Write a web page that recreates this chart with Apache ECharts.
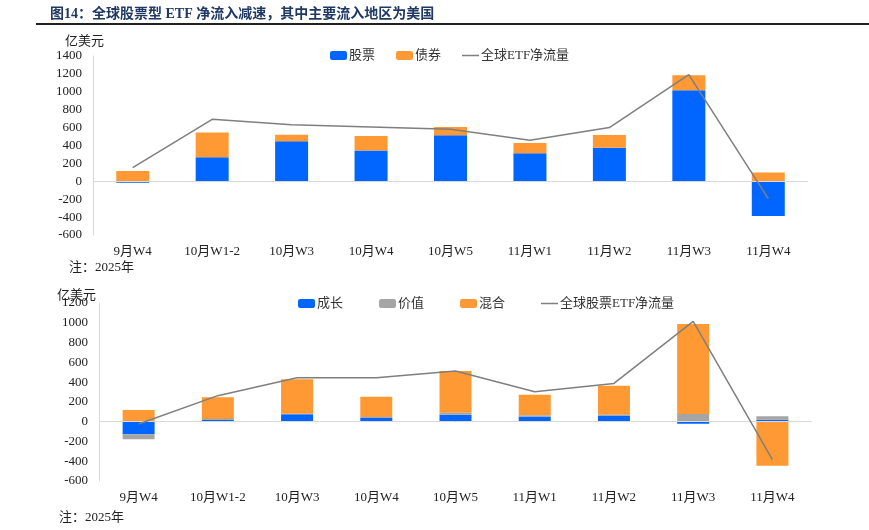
<!DOCTYPE html>
<html><head><meta charset="utf-8">
<script src="https://cdn.jsdelivr.net/npm/echarts@6/dist/echarts.min.js"></script>
<style>html,body{margin:0;padding:0;background:#fff}#c{width:869px;height:530px}</style>
</head><body><div id="c"></div>
<script>
const categories = ['9月W4','10月W1-2','10月W3','10月W4','10月W5','11月W1','11月W2','11月W3','11月W4'];
// top chart
const stockFlow = [-15, 268, 447, 343, 514, 313, 376, 1016, -387];
const bondFlow = [115, 276, 74, 163, 93, 115, 141, 168, 97];
const globalEtfFlow = [153, 692, 633, 607, 581, 458, 600, 1191, -194];
// bottom chart
const growthFlow = [-128, 23, 75, 42, 71, 51, 62, -20, 20];
const valueFlow = [-50, 5, 5, 5, 20, 13, 8, 78, 34];
const mixedFlow = [118, 218, 348, 206, 421, 209, 294, 910, -445];
const globalEquityEtfFlow = [-24, 263, 445, 445, 512, 303, 387, 1014, -384];

const FONT = '"Liberation Serif","Noto Sans CJK SC",serif';
const BLUE = '#0066FF', ORANGE = '#FF9933', GRAY = '#A5A5A5', LINE = '#7F7F7F';
const LINE_ICON = 'path://M0,0 L0.01,0 L0.01,0.01 Z M0,3.8 L17,3.8 L17,5.3 L0,5.3 Z M16.99,9 L17,9 L17,8.99 Z';
const chart = echarts.init(document.getElementById('c'));
const txt = {fontFamily: FONT, color: '#222', fontSize: 13};
const yAx = (gi, min, max) => ({
  gridIndex: gi, type: 'value', min: min, max: max, interval: 200,
  axisLine: {show: true, lineStyle: {color: '#D9D9D9'}},
  axisTick: {show: false}, splitLine: {show: false},
  axisLabel: Object.assign({margin: 11, formatter: v => String(v)}, txt)
});
const xAx = (gi) => ({
  gridIndex: gi, type: 'category', data: categories,
  axisLine: {show: false}, axisTick: {show: false},
  axisLabel: Object.assign({margin: 10, interval: 0}, txt)
});
const zeroLine = {silent: true, symbol: 'none', label: {show: false},
  lineStyle: {color: '#D9D9D9', type: 'solid', width: 1}, data: [{yAxis: 0}]};
const note = {fontFamily: FONT, fontSize: 13, fontWeight: 'normal', color: '#222'};
chart.setOption({
  animation: false,
  textStyle: {fontFamily: FONT},
  title: [
    {text: '图14：全球股票型 ETF 净流入减速，其中主要流入地区为美国', left: 45, top: 2,
     textStyle: {fontFamily: FONT, fontSize: 14, fontWeight: 'bold', color: '#1F3864'}},
    {text: '亿美元', left: 60, top: 30, textStyle: note},
    {text: '注：2025年', left: 64, top: 256, textStyle: note},
    {text: '亿美元', left: 52, top: 284, textStyle: note},
    {text: '注：2025年', left: 54, top: 506, textStyle: note}
  ],
  graphic: [{type: 'line', shape: {x1: 36, y1: 24, x2: 869, y2: 24}, style: {stroke: '#222', lineWidth: 2}}],
  legend: [
    {left: 325, top: 44, itemWidth: 17, itemHeight: 9, itemGap: 21,
     textStyle: {fontFamily: FONT, fontSize: 13, color: '#333', padding: [0, 0, 0, -3]},
     data: ['股票', '债券', {name: '全球ETF净流量', icon: LINE_ICON}]},
    {left: 293, top: 292, itemWidth: 17, itemHeight: 9, itemGap: 36,
     textStyle: {fontFamily: FONT, fontSize: 13, color: '#333', padding: [0, 0, 0, -3]},
     data: ['成长', '价值', '混合', {name: '全球股票ETF净流量', icon: LINE_ICON}]}
  ],
  grid: [
    {left: 93, top: 56, width: 715, height: 179},
    {left: 99, top: 303, width: 713, height: 178}
  ],
  xAxis: [xAx(0), xAx(1)],
  yAxis: [yAx(0, -600, 1400), yAx(1, -600, 1200)],
  series: [
    {name: '股票', type: 'bar', stack: 'a', xAxisIndex: 0, yAxisIndex: 0, barWidth: 33,
     itemStyle: {color: BLUE}, data: stockFlow, markLine: zeroLine},
    {name: '债券', type: 'bar', stack: 'a', xAxisIndex: 0, yAxisIndex: 0, barWidth: 33,
     itemStyle: {color: ORANGE}, data: bondFlow},
    {name: '全球ETF净流量', type: 'line', xAxisIndex: 0, yAxisIndex: 0, symbol: 'none',
     lineStyle: {color: LINE, width: 1.5}, itemStyle: {color: LINE}, data: globalEtfFlow, z: 5},
    {name: '成长', type: 'bar', stack: 'b', xAxisIndex: 1, yAxisIndex: 1, barWidth: 32,
     itemStyle: {color: BLUE}, data: growthFlow, markLine: zeroLine},
    {name: '价值', type: 'bar', stack: 'b', xAxisIndex: 1, yAxisIndex: 1, barWidth: 32,
     itemStyle: {color: GRAY}, data: valueFlow},
    {name: '混合', type: 'bar', stack: 'b', xAxisIndex: 1, yAxisIndex: 1, barWidth: 32,
     itemStyle: {color: ORANGE}, data: mixedFlow},
    {name: '全球股票ETF净流量', type: 'line', xAxisIndex: 1, yAxisIndex: 1, symbol: 'none',
     lineStyle: {color: LINE, width: 1.5}, itemStyle: {color: LINE}, data: globalEquityEtfFlow, z: 5}
  ]
});
</script></body></html>
